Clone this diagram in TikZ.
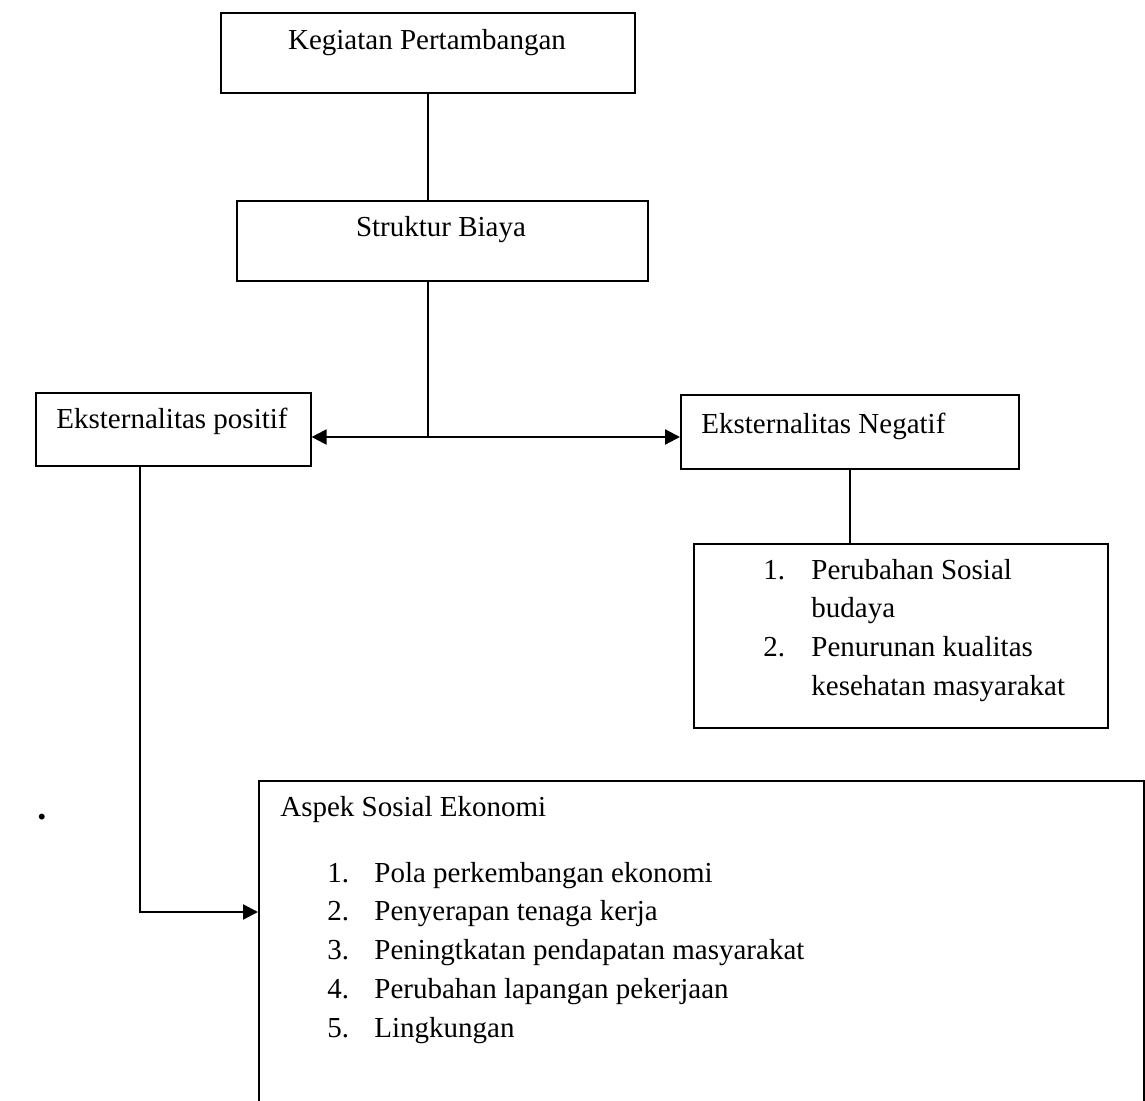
\documentclass[tikz,border=0pt]{standalone}
\usepackage{fontspec}
\setmainfont{Liberation Serif}
\usetikzlibrary{arrows.meta}
\tikzset{
  box/.style={draw, line width=0.8pt, inner sep=0pt, anchor=north west},
  txt/.style={inner sep=0pt, font=\fontsize{14.5pt}{19.4pt}\selectfont},
  link/.style={line width=0.8pt},
  arr/.style={line width=1.1pt, -{Triangle[length=7.5pt,width=7.5pt]}}
}
\begin{document}
\begin{tikzpicture}[x=0.5pt,y=-0.5pt]
\useasboundingbox (0,0) rectangle (1145,1101);
\clip (0,0) rectangle (1145,1101);
% boxes
\node[box, minimum width=207pt, minimum height=40pt] (k) at (220,12) {};
\node[box, minimum width=205.5pt, minimum height=40pt] (s) at (236,200) {};
\node[box, minimum width=137.5pt, minimum height=36.5pt] (p) at (35,392) {};
\node[box, minimum width=169pt, minimum height=37pt] (n) at (680,394) {};
\node[box, minimum width=207pt, minimum height=92pt] (l) at (693,543) {};
\node[box, minimum width=442.5pt, minimum height=170pt] (a) at (258,780) {};
% texts
\node[txt, anchor=base] (kt) at (427,50) {Kegiatan Pertambangan};
\node[txt, anchor=base] (st) at (441,237) {Struktur Biaya};
\node[txt, anchor=base] (pt) at (172,429) {Eksternalitas positif};
\node[txt, anchor=base west] (nt) at (701,433) {Eksternalitas Negatif};
\node[txt, anchor=base west] (lt) at (763,579) {%
  \begin{tabular}[t]{@{}p{24pt}@{}l@{}}
  1. & Perubahan Sosial\\
     & budaya\\
  2. & Penurunan kualitas\\
     & kesehatan masyarakat
  \end{tabular}};
\node[txt, anchor=base west] (at) at (280,816) {Aspek Sosial Ekonomi};
\node[txt, anchor=base west] (al) at (327,882) {%
  \begin{tabular}[t]{@{}p{23.5pt}@{}l@{}}
  1. & Pola perkembangan ekonomi\\
  2. & Penyerapan tenaga kerja\\
  3. & Peningtkatan pendapatan masyarakat\\
  4. & Perubahan lapangan pekerjaan\\
  5. & Lingkungan
  \end{tabular}};
\node[txt, anchor=base west, font=\fontsize{18pt}{20pt}\selectfont\bfseries] (dot) at (37,819) {.};
% connectors
\coordinate (j) at (428,437);
\coordinate (c) at (140,912);
\draw[link] (k.south -| j) -- (s.north -| j);
\draw[link] (s.south -| j) -- (j);
\draw[arr] (j) -- (p.east |- j);
\draw[arr] (j) -- (n.west |- j);
\draw[line width=1.1pt] (n.south) -- (n.south |- l.north);
\draw[arr] (p.south -| c) -- (c) -- (a.west |- c);
\end{tikzpicture}
\end{document}
